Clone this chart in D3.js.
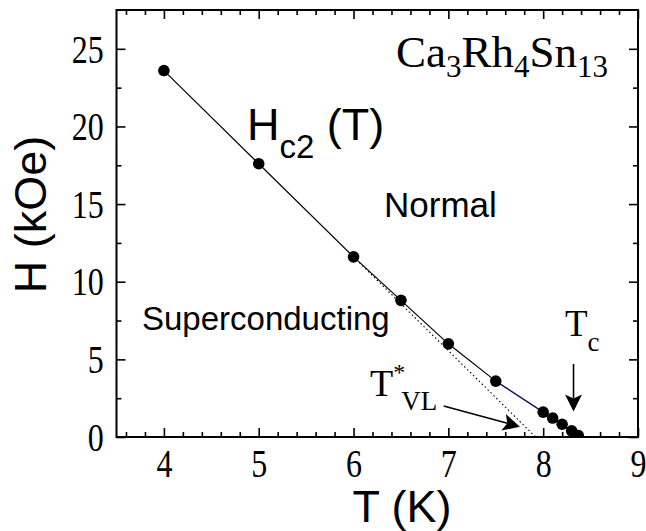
<!DOCTYPE html>
<html>
<head>
<meta charset="utf-8">
<script src="https://cdn.jsdelivr.net/npm/d3@7"></script>
<style>
  html, body { margin: 0; padding: 0; background: #fff; }
  svg { display: block; }
  .serif { font-family: "Liberation Serif", "Times New Roman", serif; }
  .sans { font-family: "Liberation Sans", Arial, sans-serif; }
</style>
</head>
<body>
<svg id="chart" width="646" height="531"></svg>
<script>
// Upper critical field Hc2(T) of Ca3Rh4Sn13
const temperatureK = [4.0, 5.0, 6.0, 6.5, 7.0, 7.5, 8.0, 8.1, 8.2, 8.3, 8.37];
const fieldKOe     = [23.6, 17.6, 11.6, 8.8, 6.0, 3.6, 1.6, 1.22, 0.82, 0.4, 0.1];
// linear extrapolation from the high-field part down to H = 0
const extrapT = [6.0, 7.92];
const extrapH = [11.6, 0.0];

const xMajorTicks = [4, 5, 6, 7, 8, 9];
const yMajorTicks = [0, 5, 10, 15, 20, 25];

const W = 646, H = 531;
const m = { left: 116.5, right: 8, top: 10, bottom: 94 };
const svg = d3.select("#chart");

const x = d3.scaleLinear().domain([3.5, 9]).range([m.left, W - m.right]);
const y = d3.scaleLinear().domain([0, 27.5]).range([H - m.bottom, m.top]);
const x0 = x.range()[0], x1 = x.range()[1], y0 = y.range()[0], y1 = y.range()[1];

const xMinor = d3.range(36, 91, 2).map(v => v / 10).filter(v => !Number.isInteger(v));
const yMinor = [2.5, 7.5, 12.5, 17.5, 22.5];

// narrow, tall serif digits for the tick labels
const tickFont = 40, tickSquash = 0.8;

function styleAxis(g) {
  g.select(".domain").remove();
  g.selectAll(".tick line").attr("stroke", "#000").attr("stroke-width", 1.6);
}
function styleLabels(g, dy) {
  g.selectAll("text")
    .attr("class", "serif").attr("font-size", tickFont).attr("fill", "#000")
    .attr("dy", dy).attr("transform", `scale(${tickSquash},1)`);
}

// bottom axis: inward ticks + labels
svg.append("g").attr("transform", `translate(0,${y0})`)
  .call(d3.axisBottom(x).tickValues(xMajorTicks).tickSizeInner(-9).tickSizeOuter(0).tickPadding(12).tickFormat(d3.format("d")))
  .call(styleAxis)
  .call(g => styleLabels(g, "0.71em"));
svg.append("g").attr("transform", `translate(0,${y0})`)
  .call(d3.axisBottom(x).tickValues(xMinor).tickSizeInner(-5).tickSizeOuter(0).tickFormat(""))
  .call(styleAxis);

// top axis: inward ticks only
svg.append("g").attr("transform", `translate(0,${y1})`)
  .call(d3.axisTop(x).tickValues(xMajorTicks).tickSizeInner(-9).tickSizeOuter(0).tickFormat(""))
  .call(styleAxis);
svg.append("g").attr("transform", `translate(0,${y1})`)
  .call(d3.axisTop(x).tickValues(xMinor).tickSizeInner(-5).tickSizeOuter(0).tickFormat(""))
  .call(styleAxis);

// left axis: inward ticks + labels
svg.append("g").attr("transform", `translate(${x0},0)`)
  .call(d3.axisLeft(y).tickValues(yMajorTicks).tickSizeInner(-9).tickSizeOuter(0).tickPadding(16).tickFormat(d3.format("d")))
  .call(styleAxis)
  .call(g => styleLabels(g, "0.33em"));
svg.append("g").attr("transform", `translate(${x0},0)`)
  .call(d3.axisLeft(y).tickValues(yMinor).tickSizeInner(-5).tickSizeOuter(0).tickFormat(""))
  .call(styleAxis);

// right axis: inward ticks only
svg.append("g").attr("transform", `translate(${x1},0)`)
  .call(d3.axisRight(y).tickValues(yMajorTicks).tickSizeInner(-9).tickSizeOuter(0).tickFormat(""))
  .call(styleAxis);
svg.append("g").attr("transform", `translate(${x1},0)`)
  .call(d3.axisRight(y).tickValues(yMinor).tickSizeInner(-5).tickSizeOuter(0).tickFormat(""))
  .call(styleAxis);

// clip for data inside the frame
svg.append("clipPath").attr("id", "plotClip")
  .append("rect").attr("x", x0).attr("y", y1).attr("width", x1 - x0).attr("height", y0 - y1);

const pts = temperatureK.map((t, i) => ({ t, h: fieldKOe[i] }));
const lineGen = d3.line().x(d => x(d.t)).y(d => y(d.h));
const plot = svg.append("g").attr("clip-path", "url(#plotClip)");

// dotted extrapolation
plot.append("path")
  .datum(extrapT.map((t, i) => ({ t, h: extrapH[i] })))
  .attr("d", lineGen).attr("fill", "none").attr("stroke", "#000")
  .attr("stroke-width", 1.1).attr("stroke-dasharray", "1.5,2.6");

// connecting line (black up to 7.5 K, dark blue near Tc)
plot.append("path").datum(pts.filter(d => d.t <= 7.5))
  .attr("d", lineGen).attr("fill", "none").attr("stroke", "#000").attr("stroke-width", 1.2);
plot.append("path").datum(pts.filter(d => d.t >= 7.5))
  .attr("d", lineGen).attr("fill", "none").attr("stroke", "#14145a").attr("stroke-width", 1.4);

// data points
plot.selectAll("circle.pt").data(pts).join("circle")
  .attr("class", "pt").attr("cx", d => x(d.t)).attr("cy", d => y(d.h)).attr("r", 5.8).attr("fill", "#000");

// frame
svg.append("rect").attr("x", x0).attr("y", y1).attr("width", x1 - x0).attr("height", y0 - y1)
  .attr("fill", "none").attr("stroke", "#000").attr("stroke-width", 2);

// axis titles
svg.append("text").attr("class", "sans").attr("x", 402).attr("y", 522)
  .attr("text-anchor", "middle").attr("font-size", 45).text("T (K)");
svg.append("text").attr("class", "sans")
  .attr("transform", `translate(46,${(y0 + y1) / 2 - 9}) rotate(-90)`)
  .attr("text-anchor", "middle").attr("font-size", 45).text("H (kOe)");

// compound label
const comp = svg.append("text").attr("class", "serif").attr("x", 396).attr("y", 67).attr("font-size", 45);
[["Ca", 0], ["3", 1], ["Rh", 0], ["4", 1], ["Sn", 0], ["13", 1]].forEach(([s, sub], i, arr) => {
  const prevSub = i > 0 ? arr[i - 1][1] : 0;
  const dy = sub && !prevSub ? 10 : (!sub && prevSub ? -10 : 0);
  comp.append("tspan").attr("dy", dy).attr("font-size", sub ? 31 : 45).text(s);
});

// Hc2 (T)
const hc = svg.append("text").attr("class", "sans").attr("x", 247).attr("y", 140).attr("font-size", 45);
hc.append("tspan").text("H");
hc.append("tspan").attr("dy", 18).attr("font-size", 33).text("c2");
hc.append("tspan").attr("dy", -18).attr("font-size", 45).text(" (T)");

// region labels
svg.append("text").attr("class", "sans").attr("x", 384).attr("y", 217).attr("font-size", 35).text("Normal");
svg.append("text").attr("class", "sans").attr("x", 142).attr("y", 330).attr("font-size", 33).text("Superconducting");

// T*_VL label
const tv = svg.append("text").attr("class", "serif").attr("x", 370).attr("y", 396).attr("font-size", 38);
tv.append("tspan").text("T");
tv.append("tspan").attr("dy", -16).attr("font-size", 24).text("*");
tv.append("tspan").attr("dy", 30).attr("dx", -4).attr("font-size", 27).text("VL");

// Tc label
const tc = svg.append("text").attr("class", "serif").attr("x", 565).attr("y", 336).attr("font-size", 37);
tc.append("tspan").text("T");
tc.append("tspan").attr("dy", 15).attr("font-size", 27).text("c");

// arrows
function arrow(t0, h0, t1, h1) {
  const xa = x(t0), ya = y(h0), xb = x(t1), yb = y(h1);
  const ang = Math.atan2(yb - ya, xb - xa);
  const L = 17, Wd = 8.5, notch = 4;
  const bx = xb - L * Math.cos(ang), by = yb - L * Math.sin(ang);
  const nx = -Math.sin(ang), ny = Math.cos(ang);
  const ix = xb - (L - notch) * Math.cos(ang), iy = yb - (L - notch) * Math.sin(ang);
  svg.append("line").attr("x1", xa).attr("y1", ya).attr("x2", ix).attr("y2", iy)
    .attr("stroke", "#000").attr("stroke-width", 1.6);
  svg.append("path")
    .attr("d", `M${xb},${yb} L${bx + nx * Wd},${by + ny * Wd} L${ix},${iy} L${bx - nx * Wd},${by - ny * Wd} Z`)
    .attr("fill", "#000");
}
const vlArrow = { from: [6.95, 2.0], to: [7.755, 0.66] };
const tcArrow = { from: [8.32, 4.7], to: [8.32, 1.65] };
arrow(vlArrow.from[0], vlArrow.from[1], vlArrow.to[0], vlArrow.to[1]);
arrow(tcArrow.from[0], tcArrow.from[1], tcArrow.to[0], tcArrow.to[1]);
</script>
</body>
</html>
